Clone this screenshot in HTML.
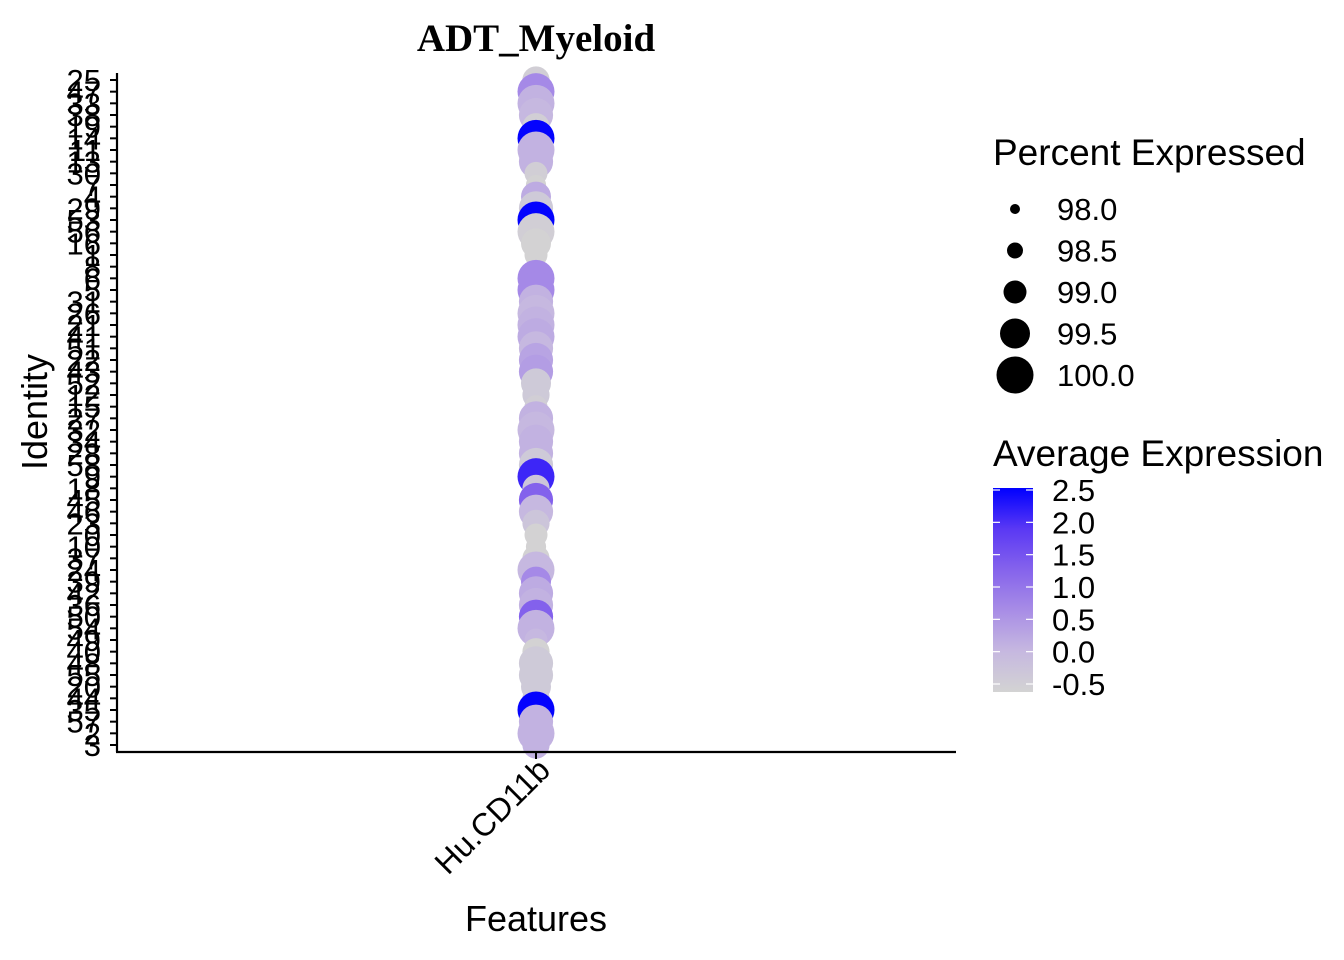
<!DOCTYPE html>
<html><head><meta charset="utf-8"><style>
html,body{margin:0;padding:0;background:#fff;width:1344px;height:960px;overflow:hidden}
svg text{font-family:"Liberation Sans",Arial,sans-serif}
</style></head><body>
<svg id="chart" width="1344" height="960" viewBox="0 0 1344 960">
<text x="536" y="51" text-anchor="middle" style="font-family:'Liberation Serif',serif" font-weight="bold" font-size="39">ADT_Myeloid</text>
<g id="yaxis"></g>
<g id="dots"></g>
<line x1="117" y1="73" x2="117" y2="752" stroke="#000" stroke-width="2.2"/>
<line x1="116" y1="752" x2="956" y2="752" stroke="#000" stroke-width="2.2"/>
<line x1="536" y1="752" x2="536" y2="759" stroke="#000" stroke-width="2"/>
<text transform="translate(552,772) rotate(-45)" text-anchor="end" font-size="32">Hu.CD11b</text>
<text x="536" y="931" text-anchor="middle" font-size="36">Features</text>
<text transform="translate(47,412) rotate(-90)" text-anchor="middle" font-size="36">Identity</text>
<text x="993" y="165" font-size="37">Percent Expressed</text>
<g id="sizeleg"></g>
<text x="993" y="466" font-size="37">Average Expression</text>
<defs><linearGradient id="cg" x1="0" y1="1" x2="0" y2="0">
<stop offset="0" stop-color="#d3d3d3"/><stop offset="0.2" stop-color="#c6b8e0"/><stop offset="0.4" stop-color="#a88de6"/><stop offset="0.6" stop-color="#8563ec"/><stop offset="0.8" stop-color="#5a38f4"/><stop offset="1" stop-color="#0000ff"/></linearGradient></defs>
<rect x="993" y="488" width="40" height="204" fill="url(#cg)"/>
<g id="colleg"></g>
</svg>
<script>
const identities=["25","47","33","38","19","14","11","13","30","7","4","29","53","56","16","1","8","6","5","31","26","21","41","51","22","43","52","12","15","27","32","34","28","58","9","18","45","46","23","0","10","37","24","39","42","36","50","54","49","40","48","55","20","44","35","57","2","3"];
const avgExpr=[-0.5,0.7,0.1,0.0,-0.5,2.5,0.1,0.1,-0.5,-0.6,0.2,-0.4,2.5,-0.5,-0.6,-0.6,-0.6,0.7,0.7,0.1,0.0,0.1,0.2,0.0,0.3,0.4,-0.4,-0.4,-0.5,0.1,0.0,0.1,0.1,-0.4,2.1,-0.3,1.3,0.0,-0.3,-0.6,-0.6,-0.6,0.0,0.7,0.2,0.1,1.3,0.1,0.0,-0.6,-0.4,-0.4,-0.4,-0.4,2.5,0.1,0.1,0.1];
const pctExpr=[99.3,100,100,99.8,99.3,100,100,99.8,99.0,98.8,99.5,99.8,100,100,99.5,99.0,98.8,100,100,99.8,100,100,100,99.8,99.8,99.8,99.5,99.3,99.0,99.8,100,99.8,99.8,99.8,100,99.3,99.8,99.8,99.3,99.0,98.8,99.3,100,99.5,99.8,99.8,99.8,100,99.0,99.3,99.8,99.8,99.5,99.3,100,99.8,100,99.3];
const sizeTicks=[98.0,98.5,99.0,99.5,100.0];
const sizeRadii=[5,8,11.5,15,18.5];
const colorTicks=[2.5,2.0,1.5,1.0,0.5,0.0,-0.5];
const NS="http://www.w3.org/2000/svg";
const yTop=80,yBot=745;
function yScale(i){return yTop+i*(yBot-yTop)/(identities.length-1);}
function rScale(p){if(p<=sizeTicks[0])return sizeRadii[0];for(let k=1;k<sizeTicks.length;k++){if(p<=sizeTicks[k]){const t=(p-sizeTicks[k-1])/(sizeTicks[k]-sizeTicks[k-1]);return sizeRadii[k-1]+t*(sizeRadii[k]-sizeRadii[k-1]);}}return sizeRadii[sizeRadii.length-1];}
const cmin=-0.62,cmax=2.53;
const stops=[[211,211,211],[198,184,224],[168,141,230],[133,99,236],[90,56,244],[0,0,255]];
function cScale(v){let t=(v-cmin)/(cmax-cmin);t=Math.max(0,Math.min(1,t));const s=t*5,k=Math.min(4,Math.floor(s)),f=s-k;const a=stops[k],b=stops[k+1];return `rgb(${a.map((x,j)=>Math.round(x+(b[j]-x)*f)).join(',')})`;}
function cy(v){return 684-(v+0.5)*(684-490)/3;}
const ya=document.getElementById('yaxis');
identities.forEach((lab,i)=>{const y=yScale(i);
const l=document.createElementNS(NS,'line');l.setAttribute('x1',110);l.setAttribute('x2',117);l.setAttribute('y1',y);l.setAttribute('y2',y);l.setAttribute('stroke','#000');l.setAttribute('stroke-width','2');


ya.appendChild(l);
const t=document.createElementNS(NS,'text');t.setAttribute('x',101);t.setAttribute('y',y+11);t.setAttribute('text-anchor','end');t.setAttribute('font-size','31');t.textContent=lab;


ya.appendChild(t);});
const dg=document.getElementById('dots');
identities.forEach((lab,i)=>{const c=document.createElementNS(NS,'circle');c.setAttribute('cx',536);c.setAttribute('cy',yScale(i));c.setAttribute('r',rScale(pctExpr[i]));c.setAttribute('fill',cScale(avgExpr[i]));


dg.appendChild(c);});
const sl=document.getElementById('sizeleg');
sizeTicks.forEach((p,k)=>{const y=209+k*41.5;const c=document.createElementNS(NS,'circle');c.setAttribute('cx',1015);c.setAttribute('cy',y);c.setAttribute('r',rScale(p));c.setAttribute('fill','#000');


sl.appendChild(c);
const t=document.createElementNS(NS,'text');t.setAttribute('x',1057);t.setAttribute('y',y+11);t.setAttribute('font-size','31');t.textContent=p.toFixed(1);


sl.appendChild(t);});
const cl=document.getElementById('colleg');
colorTicks.forEach(v=>{const y=cy(v);
[[993,1000],[1026,1033]].forEach(([a,b])=>{const l=document.createElementNS(NS,'line');l.setAttribute('x1',a);l.setAttribute('x2',b);l.setAttribute('y1',y);l.setAttribute('y2',y);l.setAttribute('stroke','#fff');l.setAttribute('stroke-width','1.2');


cl.appendChild(l);});
const t=document.createElementNS(NS,'text');t.setAttribute('x',1052);t.setAttribute('y',y+11);t.setAttribute('font-size','31');t.textContent=v.toFixed(1);


cl.appendChild(t);});
</script>
</body></html>
